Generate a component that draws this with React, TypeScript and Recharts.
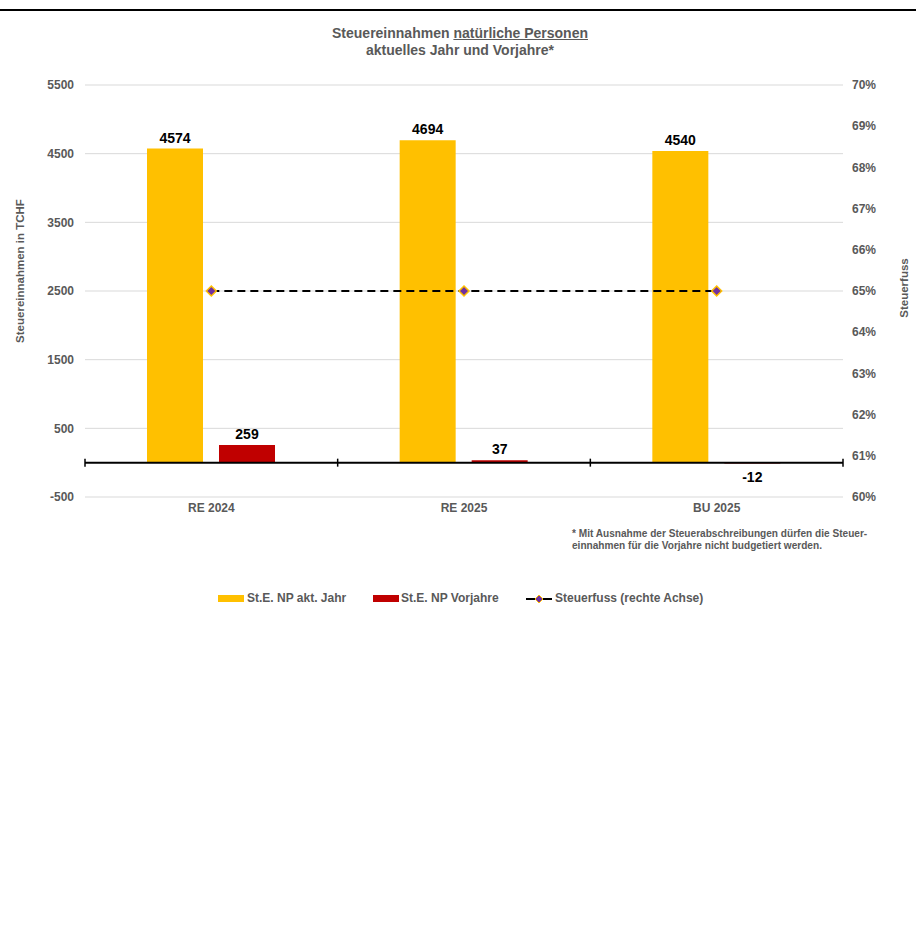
import {
  ComposedChart,
  Bar,
  Line,
  XAxis,
  YAxis,
  CartesianGrid,
  ReferenceLine,
  LabelList,
} from 'recharts';

const categories = ['RE 2024', 'RE 2025', 'BU 2025'];
const aktJahr = [4574, 4694, 4540];
const vorjahre = [259, 37, -12];
const steuerfuss = [0.65, 0.65, 0.65];
const leftTicks = [-500, 500, 1500, 2500, 3500, 4500, 5500];
const rightTicks = [0.6, 0.61, 0.62, 0.63, 0.64, 0.65, 0.66, 0.67, 0.68, 0.69, 0.7];

const data = categories.map((name, i) => ({
  name,
  akt: aktJahr[i],
  vor: vorjahre[i],
  fuss: steuerfuss[i],
}));

const FONT = '"Liberation Sans", Arial, sans-serif';
const GRAY = '#595959';
const YELLOW = '#FFC000';
const RED = '#C00000';
const PURPLE = '#7030A0';

const tickStyle = { fill: GRAY, fontSize: 12, fontWeight: 700, fontFamily: FONT };

// value labels: above positive bars, below negative ones
const BarValue = (props: any) => {
  const { x, y, width, height, value } = props;
  const top = Math.min(y, y + height);
  const bottom = Math.max(y, y + height);
  const neg = value < 0;
  return (
    <text
      x={x + width / 2}
      y={neg ? bottom + 19 : top - 6}
      textAnchor="middle"
      fill="#000"
      fontSize={14}
      fontWeight={700}
      fontFamily={FONT}
    >
      {value}
    </text>
  );
};

const Diamond = (props: any) => {
  const { cx, cy } = props;
  if (cx == null || cy == null) return null;
  const r = 5;
  return (
    <path
      d={`M${cx},${cy - r}L${cx + r},${cy}L${cx},${cy + r}L${cx - r},${cy}Z`}
      fill={PURPLE}
      stroke={YELLOW}
      strokeWidth={1.5}
    />
  );
};

// zero line with small ticks at the category boundaries
const ZeroAxis = (props: any) => {
  const { x1, y1, x2 } = props;
  const w = x2 - x1;
  const marks = [0, 1, 2, 3].map((k) => x1 + (w * k) / categories.length);
  return (
    <g>
      <line x1={x1} y1={y1} x2={x2} y2={y1} stroke="#000" strokeWidth={2} />
      {marks.map((mx, k) => (
        <line key={k} x1={mx} y1={y1 - 4} x2={mx} y2={y1 + 4} stroke="#000" strokeWidth={1.5} />
      ))}
    </g>
  );
};

export default function App() {
  return (
    <div
      style={{
        position: 'absolute',
        left: 0,
        top: 0,
        width: 916,
        height: 939,
        background: '#fff',
        fontFamily: FONT,
      }}
    >
      <div style={{ position: 'absolute', left: 0, top: 9, width: 916, height: 2, background: '#000' }} />

      <div
        style={{
          position: 'absolute',
          left: 0,
          top: 25,
          width: 920,
          textAlign: 'center',
          color: GRAY,
          fontSize: 14,
          fontWeight: 700,
          lineHeight: '17px',
        }}
      >
        Steuereinnahmen <span style={{ textDecoration: 'underline' }}>natürliche Personen</span>
        <br />
        aktuelles Jahr und Vorjahre*
      </div>

      <div
        style={{
          position: 'absolute',
          left: 20,
          top: 271,
          transform: 'translate(-50%, -50%) rotate(-90deg)',
          whiteSpace: 'nowrap',
          color: GRAY,
          fontSize: 11.5,
          fontWeight: 700,
        }}
      >
        Steuereinnahmen in TCHF
      </div>
      <div
        style={{
          position: 'absolute',
          left: 904,
          top: 288,
          transform: 'translate(-50%, -50%) rotate(-90deg)',
          whiteSpace: 'nowrap',
          color: GRAY,
          fontSize: 11.5,
          fontWeight: 700,
        }}
      >
        Steuerfuss
      </div>

      <div style={{ position: 'absolute', left: 0, top: 0 }}>
        <ComposedChart
          width={916}
          height={540}
          data={data}
          margin={{ top: 85, right: 0, bottom: 13, left: 0 }}
          barSize={56}
          barGap={16}
        >
          <CartesianGrid yAxisId="left" vertical={false} stroke="#d9d9d9" />
          <XAxis
            dataKey="name"
            axisLine={false}
            tickLine={false}
            tick={tickStyle}
            tickMargin={0}
            height={30}
            interval={0}
          />
          <YAxis
            yAxisId="left"
            domain={[-500, 5500]}
            ticks={leftTicks}
            width={85}
            axisLine={false}
            tickLine={false}
            tick={tickStyle}
            tickMargin={5}
            interval={0}
          />
          <YAxis
            yAxisId="right"
            orientation="right"
            domain={[0.6, 0.7]}
            ticks={rightTicks}
            width={73}
            axisLine={false}
            tickLine={false}
            tick={tickStyle}
            tickMargin={3}
            interval={0}
            tickFormatter={(v: number) => `${Math.round(v * 100)}%`}
          />
          <Bar yAxisId="left" dataKey="akt" fill={YELLOW} isAnimationActive={false}>
            <LabelList dataKey="akt" content={BarValue} />
          </Bar>
          <Bar yAxisId="left" dataKey="vor" fill={RED} isAnimationActive={false}>
            <LabelList dataKey="vor" content={BarValue} />
          </Bar>
          <ReferenceLine yAxisId="left" y={0} shape={ZeroAxis} />
          <Line
            yAxisId="right"
            dataKey="fuss"
            stroke="#000"
            strokeWidth={2}
            strokeDasharray="8 5"
            dot={<Diamond />}
            activeDot={false}
            isAnimationActive={false}
          />
        </ComposedChart>
      </div>

      <div
        style={{
          position: 'absolute',
          left: 572,
          top: 528,
          color: GRAY,
          fontSize: 10.1,
          fontWeight: 700,
          lineHeight: '12px',
          whiteSpace: 'nowrap',
        }}
      >
        * Mit Ausnahme der Steuerabschreibungen dürfen die Steuer-
        <br />
        einnahmen für die Vorjahre nicht budgetiert werden.
      </div>

      <div style={{ position: 'absolute', left: 0, top: 590, color: GRAY, fontSize: 12, fontWeight: 700 }}>
        <div style={{ position: 'absolute', left: 218, top: 5, width: 26, height: 7, background: YELLOW }} />
        <div style={{ position: 'absolute', left: 247, top: 1, whiteSpace: 'nowrap' }}>St.E. NP akt. Jahr</div>
        <div style={{ position: 'absolute', left: 373, top: 5, width: 26, height: 7, background: RED }} />
        <div style={{ position: 'absolute', left: 401, top: 1, whiteSpace: 'nowrap' }}>St.E. NP Vorjahre</div>
        <svg style={{ position: 'absolute', left: 525, top: 2 }} width={30} height={14}>
          <line x1={1} y1={7} x2={27} y2={7} stroke="#000" strokeWidth={2} />
          <path d="M14,3L18,7L14,11L10,7Z" fill={PURPLE} stroke={YELLOW} strokeWidth={1} />
        </svg>
        <div style={{ position: 'absolute', left: 555, top: 1, whiteSpace: 'nowrap' }}>Steuerfuss (rechte Achse)</div>
      </div>
    </div>
  );
}
